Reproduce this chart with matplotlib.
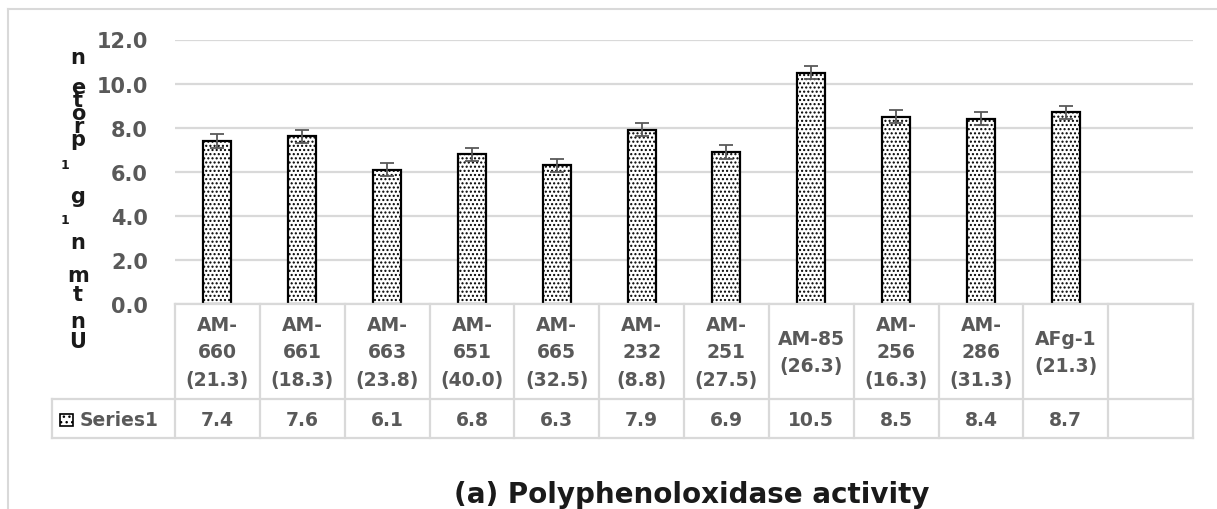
import matplotlib
matplotlib.use("Agg")
import matplotlib.pyplot as plt
from matplotlib.patches import Rectangle
from matplotlib.lines import Line2D

categories = ["AM-\n660\n(21.3)", "AM-\n661\n(18.3)", "AM-\n663\n(23.8)", "AM-\n651\n(40.0)",
              "AM-\n665\n(32.5)", "AM-\n232\n(8.8)", "AM-\n251\n(27.5)", "AM-85\n(26.3)",
              "AM-\n256\n(16.3)", "AM-\n286\n(31.3)", "AFg-1\n(21.3)", ""]
values = [7.4, 7.6, 6.1, 6.8, 6.3, 7.9, 6.9, 10.5, 8.5, 8.4, 8.7]
errors = [0.3, 0.3, 0.3, 0.3, 0.3, 0.3, 0.3, 0.3, 0.3, 0.3, 0.3]
value_labels = ["7.4", "7.6", "6.1", "6.8", "6.3", "7.9", "6.9", "10.5", "8.5", "8.4", "8.7", ""]
yticks = [0, 2, 4, 6, 8, 10, 12]
series_name = "Series1"
title = "(a) Polyphenoloxidase activity"
ylabel_parts = ["n", "e\nt\no\nr\np", "1", "g", "1", "n", "m", "t", "n", "U"]

W, H = 1217, 510
fig = plt.figure(figsize=(W / 100, H / 100), dpi=100)
fx = lambda px: px / W
fy = lambda py: 1 - py / H

GRID = "#d9d9d9"
TXT = "#595959"
left, right, top0, bottom0 = 175, 1193, 40.5, 305
ax = fig.add_axes([fx(left), fy(bottom0), fx(right - left), (bottom0 - top0) / H])
n = len(categories)
xs = list(range(len(values)))
ax.bar(xs, values, width=0.33, color="white", edgecolor="black", linewidth=1.6,
       hatch="....", zorder=3)
ax.errorbar(xs, values, yerr=errors, fmt="none", ecolor=TXT, elinewidth=1.3,
            capsize=4.7, capthick=1.3, zorder=4)
ax.set_xlim(-0.5, n - 0.5)
ax.set_ylim(0, 12)
ax.set_yticks(yticks)
ax.set_yticklabels([f"{v:.1f}" for v in yticks], fontsize=15, fontweight="bold", color=TXT)
ax.tick_params(axis="y", length=0, pad=19.5)
ax.set_xticks([])
for s in ax.spines.values():
    s.set_visible(False)
ax.yaxis.grid(True, color=GRID, linewidth=1.6, zorder=0)
ax.set_axisbelow(True)

# data table
cw = (right - left) / n
def hline(y, x0, x1):
    fig.add_artist(Line2D([fx(x0), fx(x1)], [fy(y), fy(y)], color=GRID, lw=1.6))
def vline(x, y0, y1):
    fig.add_artist(Line2D([fx(x), fx(x)], [fy(y0), fy(y1)], color=GRID, lw=1.6))

hline(305, left, right)
hline(400, 52, right)
hline(439, 52, right)
for k in range(n + 1):
    vline(left + k * cw, 305, 439)
vline(52, 400, 439)

for i, (c, v) in enumerate(zip(categories, value_labels)):
    cx = left + (i + 0.5) * cw
    fig.text(fx(cx), fy(353), c, ha="center", va="center", fontsize=13.5,
             fontweight="bold", color=TXT, linespacing=1.55)
    fig.text(fx(cx), fy(421), v, ha="center", va="center", fontsize=13.5,
             fontweight="bold", color=TXT)

# legend key
fig.add_artist(Rectangle((fx(60), fy(427)), fx(13), 12 / H, facecolor="white",
                         edgecolor="black", hatch="...", lw=1.2))
fig.text(fx(80), fy(421), series_name, ha="left", va="center", fontsize=13.5,
         fontweight="bold", color=TXT)

# garbled stacked y-label (characters overlap as in the original)
ypos = [58, 114, 166, 197, 221, 243, 276, 295, 322, 342]
for part, yp in zip(ylabel_parts, ypos):
    if part == "1":
        fig.text(fx(65), fy(yp), part, ha="center", va="center", fontsize=9,
                 fontweight="bold", color="#1a1a1a")
    else:
        fig.text(fx(78), fy(yp), part, ha="center", va="center", fontsize=15,
                 fontweight="bold", color="#1a1a1a", linespacing=0.55)

fig.text(fx(692), fy(495), title, ha="center", va="center", fontsize=20,
         fontweight="bold", color="#1a1a1a")

# chart border
fig.add_artist(Line2D([fx(8), 1], [fy(10), fy(10)], color=GRID, lw=1.5))
fig.add_artist(Line2D([fx(8), fx(8)], [fy(10), 0], color=GRID, lw=1.5))

fig.savefig("out.png", dpi=100)
